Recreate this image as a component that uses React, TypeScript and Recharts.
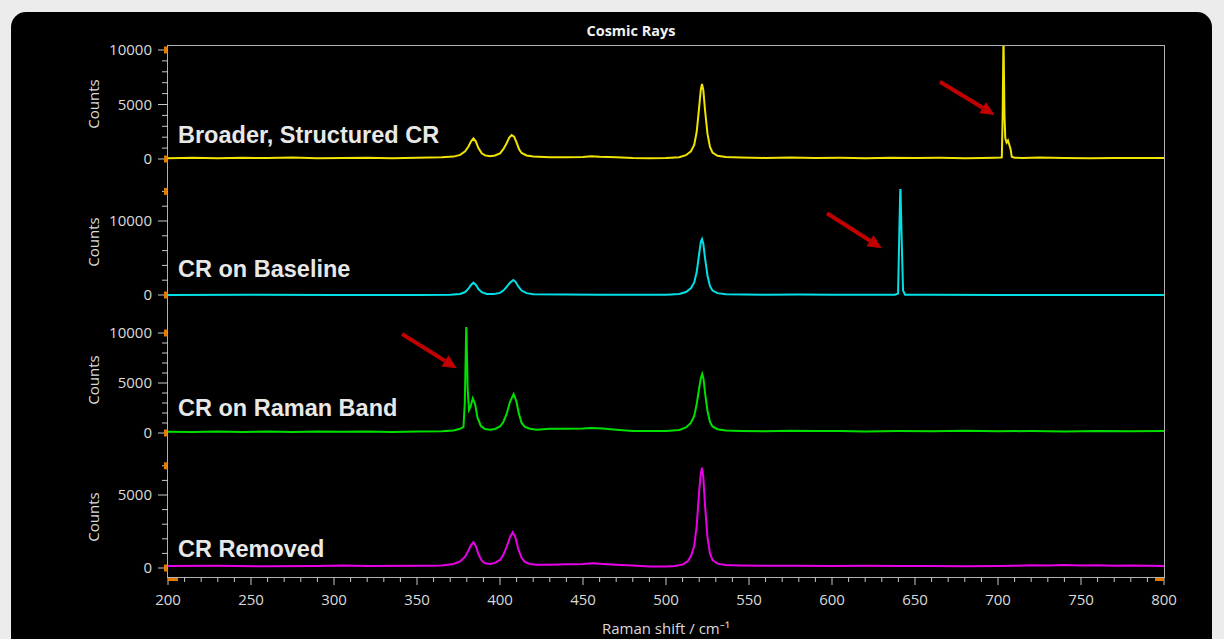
import { LineChart, Line, XAxis, YAxis, ReferenceLine } from "recharts";

const FONT = '"Open Sans", "Noto Sans", sans-serif';
const LABEL_FONT = '"Liberation Sans", Arial, sans-serif';
const AXIS_X = 168; // left edge of plot area
const PAD = 14; // room above each panel so tick labels are not cut
const TICK = "#c8c8c8";
const TEXT = "#dadada";
const ORANGE = "#e07a00";
const ARROW = "#c00000";

// Broader, Structured CR (yellow)
const yellowShift = [
  200, 215, 230, 245, 260, 275, 290, 305, 320, 335, 350, 365, 372, 376, 379, 381, 382.5, 384, 385.5, 387,
  389, 391, 394, 397, 400, 402, 404, 405.5, 407, 408.5, 410, 411.5, 413, 416, 420, 430, 440, 450, 455, 460,
  470, 480, 490, 500, 508, 512, 515, 517, 518.5, 520, 521, 521.7, 522.5, 523.5, 525, 526.5, 528, 531, 536, 545,
  560, 575, 590, 605, 620, 635, 650, 665, 680, 690, 698, 701.5, 702.3, 702.8, 703.3, 703.9, 704.4, 705.2, 706,
  706.8, 707.6, 708.3, 710, 715, 725, 740, 755, 770, 785, 800,
];
const yellowCounts = [
  80, 120, 60, 110, 90, 130, 70, 100, 120, 80, 110, 150, 220, 380, 700, 1150, 1600, 1900, 1600, 1000,
  520, 330, 260, 320, 520, 900, 1450, 1950, 2200, 2050, 1500, 900, 550, 320, 220, 160, 150, 180, 260, 200,
  150, 90, 80, 90, 160, 350, 700, 1300, 2500, 4800, 6400, 6880, 6300, 4500, 2300, 1100, 600, 300, 180, 140,
  100, 130, 90, 110, 80, 120, 90, 110, 80, 100, 120, 130, 150, 4000, 11500, 4000, 1900, 1500, 1700,
  1300, 900, 200, 120, 90, 130, 100, 80, 100, 90, 100,
];

// CR on Baseline (cyan)
const cyanShift = [
  200, 250, 300, 350, 370, 376, 379, 381, 382.5, 384, 385.5, 387, 389, 392, 396, 400, 402, 404, 406, 408,
  409.5, 411, 413, 416, 420, 440, 460, 480, 500, 508, 512, 515, 517, 518.5, 520, 521, 521.7, 522.5, 523.5, 525,
  526.5, 528, 531, 536, 560, 580, 600, 620, 638, 639.8, 640.6, 641.2, 641.8, 642.8, 644, 660, 700, 750, 800,
];
const cyanCounts = [
  0, 20, -10, 10, 30, 150, 400, 850, 1350, 1660, 1350, 800, 380, 150, 120, 280, 600, 1100, 1650, 2030,
  1750, 1150, 600, 250, 100, 60, 50, 40, 50, 150, 400, 900, 1700, 3100, 5600, 7200, 7570, 6900, 5000, 2600,
  1200, 600, 250, 100, 40, 60, 30, 20, 30, 200, 9000, 15000, 9000, 600, 50, 20, 10, 10, 0,
];

// CR on Raman Band (green)
const greenShift = [
  200, 215, 230, 245, 260, 275, 290, 305, 320, 335, 350, 365, 372, 376, 378, 378.8, 379.7, 380.5, 381.3, 382.2,
  383.6, 385, 386.5, 388.5, 391, 394, 397, 400, 402, 404, 406, 408.2, 409.8, 411.3, 413, 415, 418, 422, 430, 440,
  450, 455, 462, 470, 480, 490, 500, 508, 512, 515, 517, 518.5, 520, 521, 521.8, 522.6, 523.6, 525, 526.5, 528,
  531, 536, 545, 560, 575, 590, 605, 620, 640, 660, 680, 700, 720, 740, 760, 780, 800,
];
const greenCounts = [
  120, 90, 150, 110, 140, 100, 150, 120, 160, 110, 150, 180, 260, 420, 600, 3000, 11000, 4500, 2300, 2600,
  3470, 2900, 1500, 700, 400, 330, 400, 650, 1100, 1900, 3100, 3900, 3200, 2000, 1000, 600, 420, 330, 420, 430,
  460, 500, 440, 330, 210, 200, 210, 300, 560, 1000, 1700, 2900, 4500, 5500, 5900, 5400, 3900, 2200, 1100, 650,
  380, 250, 210, 180, 230, 190, 200, 160, 200, 180, 220, 170, 200, 160, 210, 180, 190,
];

// CR Removed (magenta)
const magentaShift = [
  200, 230, 260, 290, 305, 320, 350, 365, 372, 376, 379, 381, 382.5, 384, 385.5, 387, 389, 391, 394, 397,
  400, 402, 404, 406, 407.7, 409.3, 411, 413, 415, 418, 422, 430, 440, 450, 456, 462, 470, 480, 490, 500,
  505, 510, 513, 515, 517, 518.5, 520, 521, 521.7, 522.5, 523.5, 525, 526.5, 528, 531, 536, 545, 560, 580, 600,
  620, 640, 660, 680, 700, 710, 720, 730, 740, 750, 760, 770, 780, 790, 800,
];
const magentaCounts = [
  130, 150, 120, 140, 170, 130, 150, 180, 280, 450, 780, 1200, 1550, 1760, 1500, 950, 500, 330, 280, 350,
  550, 900, 1450, 2100, 2440, 2100, 1300, 700, 420, 280, 220, 230, 250, 280, 320, 270, 220, 170, 110, 100,
  130, 230, 450, 800, 1500, 2900, 5300, 6500, 6870, 6200, 4300, 2100, 1000, 550, 300, 200, 170, 150, 160, 140,
  150, 130, 140, 120, 140, 160, 190, 180, 200, 170, 190, 160, 180, 150, 140,
];

const xMajor = [200, 250, 300, 350, 400, 450, 500, 550, 600, 650, 700, 750, 800];
const xTicks = xMajor.flatMap((v, i) =>
  i === xMajor.length - 1 ? [v] : [v, v + 10, v + 20, v + 30, v + 40]
);

const toRows = (xs: number[], ys: number[]) => xs.map((x, i) => ({ shift: x, counts: ys[i] }));

const panels = [
  {
    name: "Broader, Structured CR",
    color: "#f0e400",
    rows: toRows(yellowShift, yellowCounts),
    top: 46,
    height: 143,
    domain: [-2752, 10367],
    ticks: [0, 1000, 2000, 3000, 4000, 5000, 6000, 7000, 8000, 9000, 10000],
    labels: [0, 5000, 10000],
    marks: [0, 10000],
    arrow: [{ x: 665, y: 7090 }, { x: 698, y: 4040 }],
    labelTop: 124,
    countsY: 104,
  },
  {
    name: "CR on Baseline",
    color: "#00e0e6",
    rows: toRows(cyanShift, cyanCounts),
    top: 189,
    height: 138,
    domain: [-4324, 14324],
    ticks: [0, 2000, 4000, 6000, 8000, 10000, 12000, 14000],
    labels: [0, 10000],
    marks: [0, 14000],
    arrow: [{ x: 597, y: 11040 }, { x: 630, y: 6310 }],
    labelTop: 258,
    countsY: 242,
  },
  {
    name: "CR on Raman Band",
    color: "#00e000",
    rows: toRows(greenShift, greenCounts),
    top: 327,
    height: 138,
    domain: [-3200, 10600],
    ticks: [0, 1000, 2000, 3000, 4000, 5000, 6000, 7000, 8000, 9000, 10000],
    labels: [0, 5000, 10000],
    marks: [0, 10000],
    arrow: [{ x: 341, y: 9900 }, { x: 374, y: 6470 }],
    labelTop: 397,
    countsY: 380,
  },
  {
    name: "CR Removed",
    color: "#e800e8",
    rows: toRows(magentaShift, magentaCounts),
    top: 465,
    height: 112,
    domain: [-616, 7055],
    ticks: [0, 1000, 2000, 3000, 4000, 5000, 6000, 7000],
    labels: [0, 5000],
    marks: [0, 7000],
    arrow: null,
    labelTop: 538,
    countsY: 517,
  },
];

const YTick = (props: any) => {
  const { y, payload, labels, marks } = props;
  const v = payload.value;
  const major = labels.includes(v);
  return (
    <g>
      <line x1={AXIS_X - (major ? 10 : 6)} x2={AXIS_X} y1={y} y2={y} stroke={TICK} strokeWidth={1} />
      {marks.includes(v) && <rect x={AXIS_X - 4} y={y - 3.5} width={3.5} height={7} fill={ORANGE} />}
      {major && (
        <text x={AXIS_X - 16} y={y} dy={5} textAnchor="end" fill={TEXT} fontSize={15} fontFamily={FONT}>
          {v}
        </text>
      )}
    </g>
  );
};

const X_AXIS_Y = PAD + 112; // plot bottom inside last panel
const XTick = (props: any) => {
  const { x, payload } = props;
  const v = payload.value;
  const major = v % 50 === 0;
  return (
    <g>
      <line x1={x} x2={x} y1={X_AXIS_Y} y2={X_AXIS_Y + (major ? 8 : 5)} stroke={TICK} strokeWidth={1} />
      {v === 200 && <rect x={x} y={X_AXIS_Y + 1} width={10} height={3} fill={ORANGE} />}
      {v === 800 && <rect x={x - 9} y={X_AXIS_Y + 1} width={9} height={3} fill={ORANGE} />}
      {major && (
        <text x={x} y={X_AXIS_Y + 28} textAnchor="middle" fill={TEXT} fontSize={15} fontFamily={FONT}>
          {v}
        </text>
      )}
    </g>
  );
};

const Arrow = (props: any) => {
  const { x1, y1, x2, y2 } = props;
  const ang = Math.atan2(y2 - y1, x2 - x1);
  const len = 14;
  const half = 6.5;
  const bx = x2 - len * Math.cos(ang);
  const by = y2 - len * Math.sin(ang);
  const px = -Math.sin(ang) * half;
  const py = Math.cos(ang) * half;
  return (
    <g>
      <line x1={x1} y1={y1} x2={bx} y2={by} stroke={ARROW} strokeWidth={4} />
      <polygon points={`${x2},${y2} ${bx + px},${by + py} ${bx - px},${by - py}`} fill={ARROW} />
    </g>
  );
};

export default function App() {
  return (
    <div
      style={{
        position: "fixed",
        left: 0,
        top: 0,
        width: 1224,
        height: 639,
        background: "#ececec",
        overflow: "hidden",
        fontFamily: FONT,
      }}
    >
      <div
        style={{
          position: "absolute",
          left: 11,
          top: 12,
          width: 1201,
          height: 700,
          background: "#000",
          borderRadius: 15,
        }}
      />
      <div
        style={{
          position: "absolute",
          left: 0,
          width: 1262,
          top: 22,
          textAlign: "center",
          color: "#f0f0f0",
          fontSize: 14.5,
          fontWeight: 700,
          lineHeight: "18px",
        }}
      >
        Cosmic Rays
      </div>
      <div
        style={{
          position: "absolute",
          left: 167,
          top: 45,
          width: 996,
          height: 531,
          border: "1px solid #b0b0b0",
        }}
      />

      {panels.map((p, idx) => {
        const last = idx === panels.length - 1;
        return (
          <div key={p.name} style={{ position: "absolute", left: 0, top: p.top - PAD }}>
            <LineChart
              width={1224}
              height={PAD + (last ? p.height + 62 : p.height)}
              data={p.rows}
              margin={{ top: PAD, right: 60, bottom: 0, left: 0 }}
            >
              {last ? (
                <XAxis
                  dataKey="shift"
                  type="number"
                  domain={[200, 800]}
                  ticks={xTicks}
                  interval={0}
                  tick={<XTick />}
                  tickLine={false}
                  axisLine={false}
                  height={62}
                />
              ) : (
                <XAxis dataKey="shift" type="number" domain={[200, 800]} hide />
              )}
              <YAxis
                type="number"
                width={AXIS_X}
                domain={p.domain}
                allowDataOverflow
                ticks={p.ticks}
                interval={0}
                tickLine={false}
                axisLine={false}
                tick={(t: any) => <YTick {...t} labels={p.labels} marks={p.marks} />}
              />
              <Line
                type="linear"
                dataKey="counts"
                stroke={p.color}
                strokeWidth={2}
                dot={false}
                isAnimationActive={false}
              />
              {p.arrow && <ReferenceLine segment={p.arrow} shape={Arrow} ifOverflow="visible" />}
            </LineChart>
          </div>
        );
      })}

      {panels.map((p) => (
        <div
          key={p.name + "-label"}
          style={{
            position: "absolute",
            left: 178,
            top: p.labelTop,
            color: "#e8e8e8",
            fontFamily: LABEL_FONT,
            fontWeight: 700,
            fontSize: 23.5,
            lineHeight: "22px",
            whiteSpace: "pre",
          }}
        >
          {p.name}
        </div>
      ))}

      {panels.map((p) => (
        <div
          key={p.name + "-counts"}
          style={{
            position: "absolute",
            left: 93,
            top: p.countsY,
            transform: "translate(-50%, -50%) rotate(-90deg)",
            color: TEXT,
            fontSize: 15,
            lineHeight: "18px",
          }}
        >
          Counts
        </div>
      ))}

      <div
        style={{
          position: "absolute",
          left: 168,
          width: 996,
          top: 619,
          textAlign: "center",
          color: TEXT,
          fontSize: 15,
          lineHeight: "18px",
        }}
      >
        Raman shift / cm⁻¹
      </div>
    </div>
  );
}
